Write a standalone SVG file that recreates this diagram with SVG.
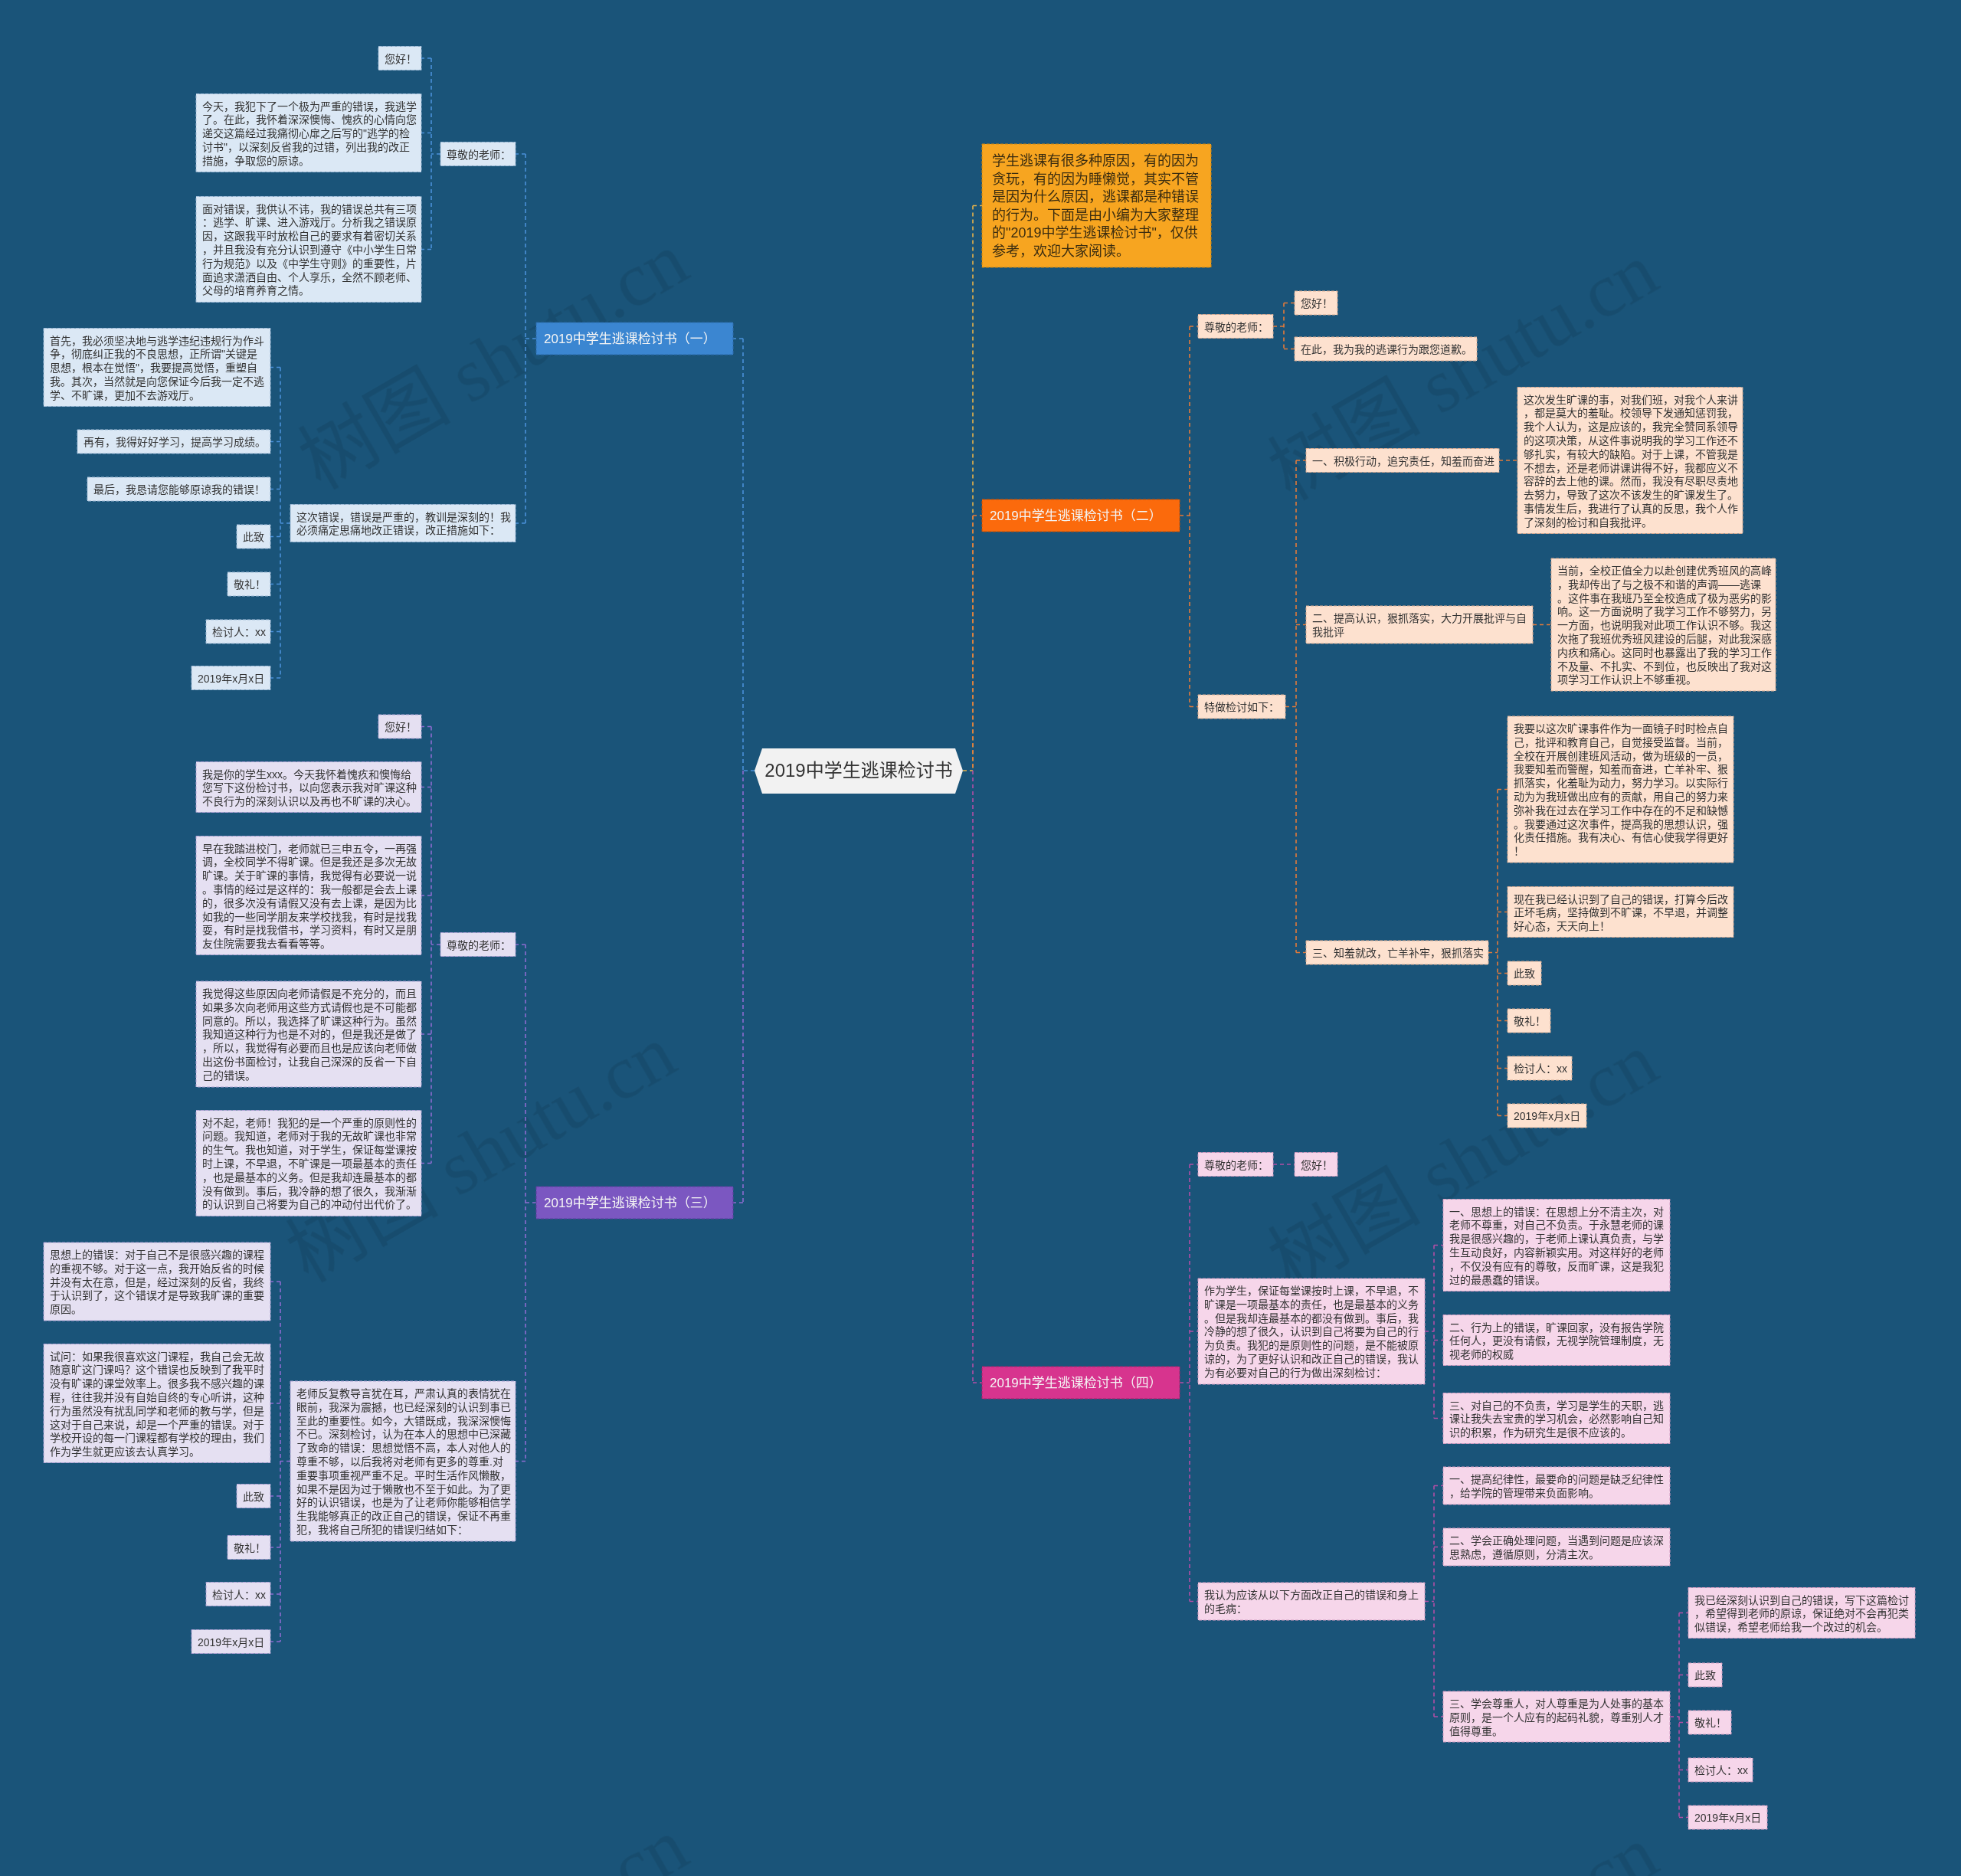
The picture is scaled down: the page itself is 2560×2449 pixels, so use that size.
<svg xmlns="http://www.w3.org/2000/svg" width="2560" height="2449" viewBox="0 0 2560 2449">
<style>
.t{font-family:'Liberation Sans','Noto Sans CJK SC',sans-serif;font-size:14px;fill:#333}
.bt{font-family:'Liberation Sans','Noto Sans CJK SC',sans-serif;font-size:17px;fill:#f4f4f4}
.c1{fill:#dbe8f5;stroke:#9fbbd8;stroke-width:1;stroke-dasharray:4 2}
.c2{fill:#fde1cf;stroke:#d9ab92;stroke-width:1;stroke-dasharray:4 2}
.c3{fill:#e5e0f2;stroke:#ada1d4;stroke-width:1;stroke-dasharray:4 2}
.c4{fill:#f6d6ea;stroke:#d29bc1;stroke-width:1;stroke-dasharray:4 2}
.ln{fill:none;stroke-width:1.6;stroke-dasharray:5 4}
.l0{stroke:#e8b249}.l1{stroke:#4a90d9}.l2{stroke:#e37a3a}.l3{stroke:#8c6bd0}.l4{stroke:#b24ea6}
</style>
<rect x="0" y="0" width="2560" height="2449" fill="#1a5479"/>

<g id="watermarks" font-family="'Liberation Serif','Noto Sans CJK SC',serif" font-size="100" fill="#000" opacity="0.09" text-anchor="middle">
<text transform="translate(661,500) rotate(-30)">树图 shutu.cn</text>
<text transform="translate(1927,514) rotate(-30)">树图 shutu.cn</text>
<text transform="translate(645,1535) rotate(-30)">树图 shutu.cn</text>
<text transform="translate(1927,1545) rotate(-30)">树图 shutu.cn</text>
<text transform="translate(661,2570) rotate(-30)">树图 shutu.cn</text>
<text transform="translate(1927,2580) rotate(-30)">树图 shutu.cn</text>
</g>

<g id="connectors">
<path class="ln l0" d="M1257,1006H1270M1270,268.5V1006M1270,268.5H1282"/>
<path class="ln l1" d="M985,1006H970M970,442V1006M970,442H957M700,442H686M686,201V683M686,201H673M686,683H673M575,201H563M563,76V325.5M563,76H550M563,173.5H550M563,325.5H550M379,683H366M366,479.5V885M366,479.5H353M366,576.5H353M366,638.5H353M366,700.5H353M366,762.5H353M366,824.5H353M366,885H353"/>
<path class="ln l3" d="M970,1006V1570M970,1570H957M700,1570H686M686,1233V1907.5M686,1233H673M686,1907.5H673M575,1233H563M563,948.5V1518.5M563,948.5H550M563,1027.5H550M563,1169H550M563,1350H550M563,1518.5H550M379,1907.5H366M366,1673V2143M366,1673H353M366,1832H353M366,1953H353M366,2020H353M366,2081H353M366,2143H353"/>
<path class="ln l2" d="M1270,673V1006M1270,673H1282M1540,673H1553M1553,426V922.5M1553,426H1564M1553,922.5H1564M1662,426H1676M1676,395.5V455.5M1676,395.5H1690M1676,455.5H1690M1678,922.5H1692M1692,601V1243.5M1692,601H1705M1692,815.5H1705M1692,1243.5H1705M1957,601H1981M2001,815.5H2025M1943,1243.5H1955M1955,1030.5V1456.5M1955,1030.5H1968M1955,1190.5H1968M1955,1270.5H1968M1955,1332.5H1968M1955,1394.5H1968M1955,1456.5H1968"/>
<path class="ln l4" d="M1270,1006V1805M1270,1805H1282M1540,1805H1553M1553,1520V2090.5M1553,1520H1564M1553,1738H1564M1553,2090.5H1564M1662,1520H1690M1860,1738H1872M1872,1625.5V1851.5M1872,1625.5H1884M1872,1749.5H1884M1872,1851.5H1884M1860,2090.5H1872M1872,1939.5V2241M1872,1939.5H1884M1872,2019.5H1884M1872,2241H1884M2180,2241H2192M2192,2105.5V2372.5M2192,2105.5H2204M2192,2186.5H2204M2192,2248.5H2204M2192,2310.5H2204M2192,2372.5H2204"/>
</g>

<g id="center">
<polygon points="985,1006 995,977 1247,977 1257,1006 1247,1036 995,1036" fill="#f2f2f2"/>
<text x="1121" y="1014" text-anchor="middle" font-family="'Liberation Sans','Noto Sans CJK SC',sans-serif" font-size="24" fill="#333">2019中学生逃课检讨书</text>
</g>

<g id="intro">
<rect x="1282" y="188" width="299" height="161" fill="#f7a520" stroke="#c98512" stroke-width="1" stroke-dasharray="4 2"/>
<text font-family="'Liberation Sans','Noto Sans CJK SC',sans-serif" font-size="18" fill="#3a2c10">
<tspan x="1295" y="216">学生逃课有很多种原因，有的因为</tspan>
<tspan x="1295" dy="23.5">贪玩，有的因为睡懒觉，其实不管</tspan>
<tspan x="1295" dy="23.5">是因为什么原因，逃课都是种错误</tspan>
<tspan x="1295" dy="23.5">的行为。下面是由小编为大家整理</tspan>
<tspan x="1295" dy="23.5">的"2019中学生逃课检讨书"，仅供</tspan>
<tspan x="1295" dy="23.5">参考，欢迎大家阅读。</tspan>
</text>
</g>

<!-- Branch 1 -->
<g id="b1">
<rect x="700" y="421" width="257" height="42" fill="#3b86d1" stroke="#2c6cad" stroke-width="1" stroke-dasharray="4 2"/>
<text class="bt" x="710" y="448">2019中学生逃课检讨书（一）</text>
</g>
<g id="b1-teacher"><rect class="c1" x="575" y="185.5" width="98" height="31"/><text class="t" x="583" y="206.5">尊敬的老师：</text></g>
<g id="b1-hello"><rect class="c1" x="494" y="60.5" width="56" height="31"/><text class="t" x="502" y="81.5">您好！</text></g>
<g id="b1-today"><rect class="c1" x="256" y="122.5" width="294" height="102"/>
<text class="t"><tspan x="264" y="143.5">今天，我犯下了一个极为严重的错误，我逃学</tspan><tspan x="264" dy="17.8">了。在此，我怀着深深懊悔、愧疚的心情向您</tspan><tspan x="264" dy="17.8">递交这篇经过我痛彻心扉之后写的"逃学的检</tspan><tspan x="264" dy="17.8">讨书"，以深刻反省我的过错，列出我的改正</tspan><tspan x="264" dy="17.8">措施，争取您的原谅。</tspan></text></g>
<g id="b1-face"><rect class="c1" x="256" y="256.5" width="294" height="138"/>
<text class="t"><tspan x="264" y="277.5">面对错误，我供认不讳，我的错误总共有三项</tspan><tspan x="264" dy="17.8">：逃学、旷课、进入游戏厅。分析我之错误原</tspan><tspan x="264" dy="17.8">因，这跟我平时放松自己的要求有着密切关系</tspan><tspan x="264" dy="17.8">，并且我没有充分认识到遵守《中小学生日常</tspan><tspan x="264" dy="17.8">行为规范》以及《中学生守则》的重要性，片</tspan><tspan x="264" dy="17.8">面追求潇洒自由、个人享乐，全然不顾老师、</tspan><tspan x="264" dy="17.8">父母的培育养育之情。</tspan></text></g>
<g id="b1-this"><rect class="c1" x="379" y="658.5" width="294" height="49"/>
<text class="t"><tspan x="387" y="679.5">这次错误，错误是严重的，教训是深刻的！我</tspan><tspan x="387" dy="17.8">必须痛定思痛地改正错误，改正措施如下：</tspan></text></g>
<g id="b1-first"><rect class="c1" x="57" y="428.5" width="296" height="102"/>
<text class="t"><tspan x="65" y="449.5">首先，我必须坚决地与逃学违纪违规行为作斗</tspan><tspan x="65" dy="17.8">争，彻底纠正我的不良思想，正所谓"关键是</tspan><tspan x="65" dy="17.8">思想，根本在觉悟"，我要提高觉悟，重塑自</tspan><tspan x="65" dy="17.8">我。其次，当然就是向您保证今后我一定不逃</tspan><tspan x="65" dy="17.8">学、不旷课，更加不去游戏厅。</tspan></text></g>
<g id="b1-again"><rect class="c1" x="101" y="561" width="252" height="31"/><text class="t" x="109" y="582">再有，我得好好学习，提高学习成绩。</text></g>
<g id="b1-last"><rect class="c1" x="114" y="623" width="239" height="31"/><text class="t" x="122" y="644">最后，我恳请您能够原谅我的错误！</text></g>
<g id="b1-cizhi"><rect class="c1" x="309" y="685" width="44" height="31"/><text class="t" x="317" y="706">此致</text></g>
<g id="b1-jingli"><rect class="c1" x="297" y="747" width="56" height="31"/><text class="t" x="305" y="768">敬礼！</text></g>
<g id="b1-author"><rect class="c1" x="269" y="809" width="84" height="31"/><text class="t" x="277" y="830">检讨人：xx</text></g>
<g id="b1-date"><rect class="c1" x="250" y="869.5" width="103" height="31"/><text class="t" x="258" y="890.5">2019年x月x日</text></g>

<!-- Branch 3 -->
<g id="b3">
<rect x="700" y="1549" width="257" height="42" fill="#7b57c1" stroke="#5e3f9e" stroke-width="1" stroke-dasharray="4 2"/>
<text class="bt" x="710" y="1576">2019中学生逃课检讨书（三）</text>
</g>
<g id="b3-teacher"><rect class="c3" x="575" y="1217.5" width="98" height="31"/><text class="t" x="583" y="1238.5">尊敬的老师：</text></g>
<g id="b3-hello"><rect class="c3" x="494" y="933" width="56" height="31"/><text class="t" x="502" y="954">您好！</text></g>
<g id="b3-me"><rect class="c3" x="256" y="994.5" width="294" height="66"/>
<text class="t"><tspan x="264" y="1015.5">我是你的学生xxx。今天我怀着愧疚和懊悔给</tspan><tspan x="264" dy="17.8">您写下这份检讨书，以向您表示我对旷课这种</tspan><tspan x="264" dy="17.8">不良行为的深刻认识以及再也不旷课的决心。</tspan></text></g>
<g id="b3-early"><rect class="c3" x="256" y="1091.5" width="294" height="155"/>
<text class="t"><tspan x="264" y="1112.5">早在我踏进校门，老师就已三申五令，一再强</tspan><tspan x="264" dy="17.8">调，全校同学不得旷课。但是我还是多次无故</tspan><tspan x="264" dy="17.8">旷课。关于旷课的事情，我觉得有必要说一说</tspan><tspan x="264" dy="17.8">。事情的经过是这样的：我一般都是会去上课</tspan><tspan x="264" dy="17.8">的，很多次没有请假又没有去上课，是因为比</tspan><tspan x="264" dy="17.8">如我的一些同学朋友来学校找我，有时是找我</tspan><tspan x="264" dy="17.8">耍，有时是找我借书，学习资料，有时又是朋</tspan><tspan x="264" dy="17.8">友住院需要我去看看等等。</tspan></text></g>
<g id="b3-think"><rect class="c3" x="256" y="1281" width="294" height="138"/>
<text class="t"><tspan x="264" y="1302">我觉得这些原因向老师请假是不充分的，而且</tspan><tspan x="264" dy="17.8">如果多次向老师用这些方式请假也是不可能都</tspan><tspan x="264" dy="17.8">同意的。所以，我选择了旷课这种行为。虽然</tspan><tspan x="264" dy="17.8">我知道这种行为也是不对的，但是我还是做了</tspan><tspan x="264" dy="17.8">，所以，我觉得有必要而且也是应该向老师做</tspan><tspan x="264" dy="17.8">出这份书面检讨，让我自己深深的反省一下自</tspan><tspan x="264" dy="17.8">己的错误。</tspan></text></g>
<g id="b3-sorry"><rect class="c3" x="256" y="1449.5" width="294" height="138"/>
<text class="t"><tspan x="264" y="1470.5">对不起，老师！我犯的是一个严重的原则性的</tspan><tspan x="264" dy="17.8">问题。我知道，老师对于我的无故旷课也非常</tspan><tspan x="264" dy="17.8">的生气。我也知道，对于学生，保证每堂课按</tspan><tspan x="264" dy="17.8">时上课，不早退，不旷课是一项最基本的责任</tspan><tspan x="264" dy="17.8">，也是最基本的义务。但是我却连最基本的都</tspan><tspan x="264" dy="17.8">没有做到。事后，我冷静的想了很久，我渐渐</tspan><tspan x="264" dy="17.8">的认识到自己将要为自己的冲动付出代价了。</tspan></text></g>
<g id="b3-repeat"><rect class="c3" x="379" y="1803" width="294" height="209"/>
<text class="t"><tspan x="387" y="1824">老师反复教导言犹在耳，严肃认真的表情犹在</tspan><tspan x="387" dy="17.8">眼前，我深为震撼，也已经深刻的认识到事已</tspan><tspan x="387" dy="17.8">至此的重要性。如今，大错既成，我深深懊悔</tspan><tspan x="387" dy="17.8">不已。深刻检讨，认为在本人的思想中已深藏</tspan><tspan x="387" dy="17.8">了致命的错误：思想觉悟不高，本人对他人的</tspan><tspan x="387" dy="17.8">尊重不够，以后我将对老师有更多的尊重.对</tspan><tspan x="387" dy="17.8">重要事项重视严重不足。平时生活作风懒散，</tspan><tspan x="387" dy="17.8">如果不是因为过于懒散也不至于如此。为了更</tspan><tspan x="387" dy="17.8">好的认识错误，也是为了让老师你能够相信学</tspan><tspan x="387" dy="17.8">生我能够真正的改正自己的错误，保证不再重</tspan><tspan x="387" dy="17.8">犯，我将自己所犯的错误归结如下：</tspan></text></g>
<g id="b3-idea"><rect class="c3" x="57" y="1622" width="296" height="102"/>
<text class="t"><tspan x="65" y="1643">思想上的错误：对于自己不是很感兴趣的课程</tspan><tspan x="65" dy="17.8">的重视不够。对于这一点，我开始反省的时候</tspan><tspan x="65" dy="17.8">并没有太在意，但是，经过深刻的反省，我终</tspan><tspan x="65" dy="17.8">于认识到了，这个错误才是导致我旷课的重要</tspan><tspan x="65" dy="17.8">原因。</tspan></text></g>
<g id="b3-ask"><rect class="c3" x="57" y="1754.5" width="296" height="155"/>
<text class="t"><tspan x="65" y="1775.5">试问：如果我很喜欢这门课程，我自己会无故</tspan><tspan x="65" dy="17.8">随意旷这门课吗？这个错误也反映到了我平时</tspan><tspan x="65" dy="17.8">没有旷课的课堂效率上。很多我不感兴趣的课</tspan><tspan x="65" dy="17.8">程，往往我并没有自始自终的专心听讲，这种</tspan><tspan x="65" dy="17.8">行为虽然没有扰乱同学和老师的教与学，但是</tspan><tspan x="65" dy="17.8">这对于自己来说，却是一个严重的错误。对于</tspan><tspan x="65" dy="17.8">学校开设的每一门课程都有学校的理由，我们</tspan><tspan x="65" dy="17.8">作为学生就更应该去认真学习。</tspan></text></g>
<g id="b3-cizhi"><rect class="c3" x="309" y="1937.5" width="44" height="31"/><text class="t" x="317" y="1958.5">此致</text></g>
<g id="b3-jingli"><rect class="c3" x="297" y="2004.5" width="56" height="31"/><text class="t" x="305" y="2025.5">敬礼！</text></g>
<g id="b3-author"><rect class="c3" x="269" y="2065.5" width="84" height="31"/><text class="t" x="277" y="2086.5">检讨人：xx</text></g>
<g id="b3-date"><rect class="c3" x="250" y="2127.5" width="103" height="31"/><text class="t" x="258" y="2148.5">2019年x月x日</text></g>

<!-- Branch 2 -->
<g id="b2">
<rect x="1282" y="652" width="258" height="42" fill="#fb6a0c" stroke="#c94f00" stroke-width="1" stroke-dasharray="4 2"/>
<text class="bt" x="1292" y="679">2019中学生逃课检讨书（二）</text>
</g>
<g id="b2-teacher"><rect class="c2" x="1564" y="410.5" width="98" height="31"/><text class="t" x="1572" y="431.5">尊敬的老师：</text></g>
<g id="b2-hello"><rect class="c2" x="1690" y="380" width="56" height="31"/><text class="t" x="1698" y="401">您好！</text></g>
<g id="b2-sorry"><rect class="c2" x="1690" y="440" width="238" height="31"/><text class="t" x="1698" y="461">在此，我为我的逃课行为跟您道歉。</text></g>
<g id="b2-review"><rect class="c2" x="1564" y="907" width="114" height="31"/><text class="t" x="1572" y="928">特做检讨如下：</text></g>
<g id="b2-one"><rect class="c2" x="1705" y="585.5" width="252" height="31"/><text class="t" x="1713" y="606.5">一、积极行动，追究责任，知羞而奋进</text></g>
<g id="b2-one-d"><rect class="c2" x="1981" y="505.5" width="294" height="191"/>
<text class="t"><tspan x="1989" y="526.5">这次发生旷课的事，对我们班，对我个人来讲</tspan><tspan x="1989" dy="17.8">，都是莫大的羞耻。校领导下发通知惩罚我，</tspan><tspan x="1989" dy="17.8">我个人认为，这是应该的，我完全赞同系领导</tspan><tspan x="1989" dy="17.8">的这项决策，从这件事说明我的学习工作还不</tspan><tspan x="1989" dy="17.8">够扎实，有较大的缺陷。对于上课，不管我是</tspan><tspan x="1989" dy="17.8">不想去，还是老师讲课讲得不好，我都应义不</tspan><tspan x="1989" dy="17.8">容辞的去上他的课。然而，我没有尽职尽责地</tspan><tspan x="1989" dy="17.8">去努力，导致了这次不该发生的旷课发生了。</tspan><tspan x="1989" dy="17.8">事情发生后，我进行了认真的反思，我个人作</tspan><tspan x="1989" dy="17.8">了深刻的检讨和自我批评。</tspan></text></g>
<g id="b2-two"><rect class="c2" x="1705" y="791" width="296" height="49"/>
<text class="t"><tspan x="1713" y="812">二、提高认识，狠抓落实，大力开展批评与自</tspan><tspan x="1713" dy="17.8">我批评</tspan></text></g>
<g id="b2-two-d"><rect class="c2" x="2025" y="729" width="293" height="173"/>
<text class="t"><tspan x="2033" y="750">当前，全校正值全力以赴创建优秀班风的高峰</tspan><tspan x="2033" dy="17.8">，我却传出了与之极不和谐的声调——逃课</tspan><tspan x="2033" dy="17.8">。这件事在我班乃至全校造成了极为恶劣的影</tspan><tspan x="2033" dy="17.8">响。这一方面说明了我学习工作不够努力，另</tspan><tspan x="2033" dy="17.8">一方面，也说明我对此项工作认识不够。我这</tspan><tspan x="2033" dy="17.8">次拖了我班优秀班风建设的后腿，对此我深感</tspan><tspan x="2033" dy="17.8">内疚和痛心。这同时也暴露出了我的学习工作</tspan><tspan x="2033" dy="17.8">不及量、不扎实、不到位，也反映出了我对这</tspan><tspan x="2033" dy="17.8">项学习工作认识上不够重视。</tspan></text></g>
<g id="b2-three"><rect class="c2" x="1705" y="1228" width="238" height="31"/><text class="t" x="1713" y="1249">三、知羞就改，亡羊补牢，狠抓落实</text></g>
<g id="b2-mirror"><rect class="c2" x="1968" y="935" width="295" height="191"/>
<text class="t"><tspan x="1976" y="956">我要以这次旷课事件作为一面镜子时时检点自</tspan><tspan x="1976" dy="17.8">己，批评和教育自己，自觉接受监督。当前，</tspan><tspan x="1976" dy="17.8">全校在开展创建班风活动，做为班级的一员，</tspan><tspan x="1976" dy="17.8">我要知羞而警醒，知羞而奋进，亡羊补牢、狠</tspan><tspan x="1976" dy="17.8">抓落实，化羞耻为动力，努力学习。以实际行</tspan><tspan x="1976" dy="17.8">动为为我班做出应有的贡献，用自己的努力来</tspan><tspan x="1976" dy="17.8">弥补我在过去在学习工作中存在的不足和缺憾</tspan><tspan x="1976" dy="17.8">。我要通过这次事件，提高我的思想认识，强</tspan><tspan x="1976" dy="17.8">化责任措施。我有决心、有信心使我学得更好</tspan><tspan x="1976" dy="17.8">！</tspan></text></g>
<g id="b2-now"><rect class="c2" x="1968" y="1157.5" width="295" height="66"/>
<text class="t"><tspan x="1976" y="1178.5">现在我已经认识到了自己的错误，打算今后改</tspan><tspan x="1976" dy="17.8">正坏毛病，坚持做到不旷课，不早退，并调整</tspan><tspan x="1976" dy="17.8">好心态，天天向上！</tspan></text></g>
<g id="b2-cizhi"><rect class="c2" x="1968" y="1255" width="44" height="31"/><text class="t" x="1976" y="1276">此致</text></g>
<g id="b2-jingli"><rect class="c2" x="1968" y="1317" width="56" height="31"/><text class="t" x="1976" y="1338">敬礼！</text></g>
<g id="b2-author"><rect class="c2" x="1968" y="1379" width="84" height="31"/><text class="t" x="1976" y="1400">检讨人：xx</text></g>
<g id="b2-date"><rect class="c2" x="1968" y="1441" width="103" height="31"/><text class="t" x="1976" y="1462">2019年x月x日</text></g>

<!-- Branch 4 -->
<g id="b4">
<rect x="1282" y="1784" width="258" height="42" fill="#d7348e" stroke="#a8226c" stroke-width="1" stroke-dasharray="4 2"/>
<text class="bt" x="1292" y="1811">2019中学生逃课检讨书（四）</text>
</g>
<g id="b4-teacher"><rect class="c4" x="1564" y="1504.5" width="98" height="31"/><text class="t" x="1572" y="1525.5">尊敬的老师：</text></g>
<g id="b4-hello"><rect class="c4" x="1690" y="1504.5" width="56" height="31"/><text class="t" x="1698" y="1525.5">您好！</text></g>
<g id="b4-student"><rect class="c4" x="1564" y="1669" width="296" height="138"/>
<text class="t"><tspan x="1572" y="1690">作为学生，保证每堂课按时上课，不早退，不</tspan><tspan x="1572" dy="17.8">旷课是一项最基本的责任，也是最基本的义务</tspan><tspan x="1572" dy="17.8">。但是我却连最基本的都没有做到。事后，我</tspan><tspan x="1572" dy="17.8">冷静的想了很久，认识到自己将要为自己的行</tspan><tspan x="1572" dy="17.8">为负责。我犯的是原则性的问题，是不能被原</tspan><tspan x="1572" dy="17.8">谅的，为了更好认识和改正自己的错误，我认</tspan><tspan x="1572" dy="17.8">为有必要对自己的行为做出深刻检讨：</tspan></text></g>
<g id="b4-e1"><rect class="c4" x="1884" y="1565.5" width="296" height="120"/>
<text class="t"><tspan x="1892" y="1586.5">一、思想上的错误：在思想上分不清主次，对</tspan><tspan x="1892" dy="17.8">老师不尊重，对自己不负责。于永慧老师的课</tspan><tspan x="1892" dy="17.8">我是很感兴趣的，于老师上课认真负责，与学</tspan><tspan x="1892" dy="17.8">生互动良好，内容新颖实用。对这样好的老师</tspan><tspan x="1892" dy="17.8">，不仅没有应有的尊敬，反而旷课，这是我犯</tspan><tspan x="1892" dy="17.8">过的最愚蠢的错误。</tspan></text></g>
<g id="b4-e2"><rect class="c4" x="1884" y="1716.5" width="296" height="66"/>
<text class="t"><tspan x="1892" y="1737.5">二、行为上的错误，旷课回家，没有报告学院</tspan><tspan x="1892" dy="17.8">任何人，更没有请假，无视学院管理制度，无</tspan><tspan x="1892" dy="17.8">视老师的权威</tspan></text></g>
<g id="b4-e3"><rect class="c4" x="1884" y="1818.5" width="296" height="66"/>
<text class="t"><tspan x="1892" y="1839.5">三、对自己的不负责，学习是学生的天职，逃</tspan><tspan x="1892" dy="17.8">课让我失去宝贵的学习机会，必然影响自己知</tspan><tspan x="1892" dy="17.8">识的积累，作为研究生是很不应该的。</tspan></text></g>
<g id="b4-fix"><rect class="c4" x="1564" y="2066" width="296" height="49"/>
<text class="t"><tspan x="1572" y="2087">我认为应该从以下方面改正自己的错误和身上</tspan><tspan x="1572" dy="17.8">的毛病：</tspan></text></g>
<g id="b4-f1"><rect class="c4" x="1884" y="1915" width="296" height="49"/>
<text class="t"><tspan x="1892" y="1936">一、提高纪律性，最要命的问题是缺乏纪律性</tspan><tspan x="1892" dy="17.8">，给学院的管理带来负面影响。</tspan></text></g>
<g id="b4-f2"><rect class="c4" x="1884" y="1995" width="296" height="49"/>
<text class="t"><tspan x="1892" y="2016">二、学会正确处理问题，当遇到问题是应该深</tspan><tspan x="1892" dy="17.8">思熟虑，遵循原则，分清主次。</tspan></text></g>
<g id="b4-f3"><rect class="c4" x="1884" y="2208" width="296" height="66"/>
<text class="t"><tspan x="1892" y="2229">三、学会尊重人，对人尊重是为人处事的基本</tspan><tspan x="1892" dy="17.8">原则，是一个人应有的起码礼貌，尊重别人才</tspan><tspan x="1892" dy="17.8">值得尊重。</tspan></text></g>
<g id="b4-end"><rect class="c4" x="2204" y="2072.5" width="296" height="66"/>
<text class="t"><tspan x="2212" y="2093.5">我已经深刻认识到自己的错误，写下这篇检讨</tspan><tspan x="2212" dy="17.8">，希望得到老师的原谅，保证绝对不会再犯类</tspan><tspan x="2212" dy="17.8">似错误，希望老师给我一个改过的机会。</tspan></text></g>
<g id="b4-cizhi"><rect class="c4" x="2204" y="2171" width="44" height="31"/><text class="t" x="2212" y="2192">此致</text></g>
<g id="b4-jingli"><rect class="c4" x="2204" y="2233" width="56" height="31"/><text class="t" x="2212" y="2254">敬礼！</text></g>
<g id="b4-author"><rect class="c4" x="2204" y="2295" width="84" height="31"/><text class="t" x="2212" y="2316">检讨人：xx</text></g>
<g id="b4-date"><rect class="c4" x="2204" y="2357" width="103" height="31"/><text class="t" x="2212" y="2378">2019年x月x日</text></g>
</svg>
